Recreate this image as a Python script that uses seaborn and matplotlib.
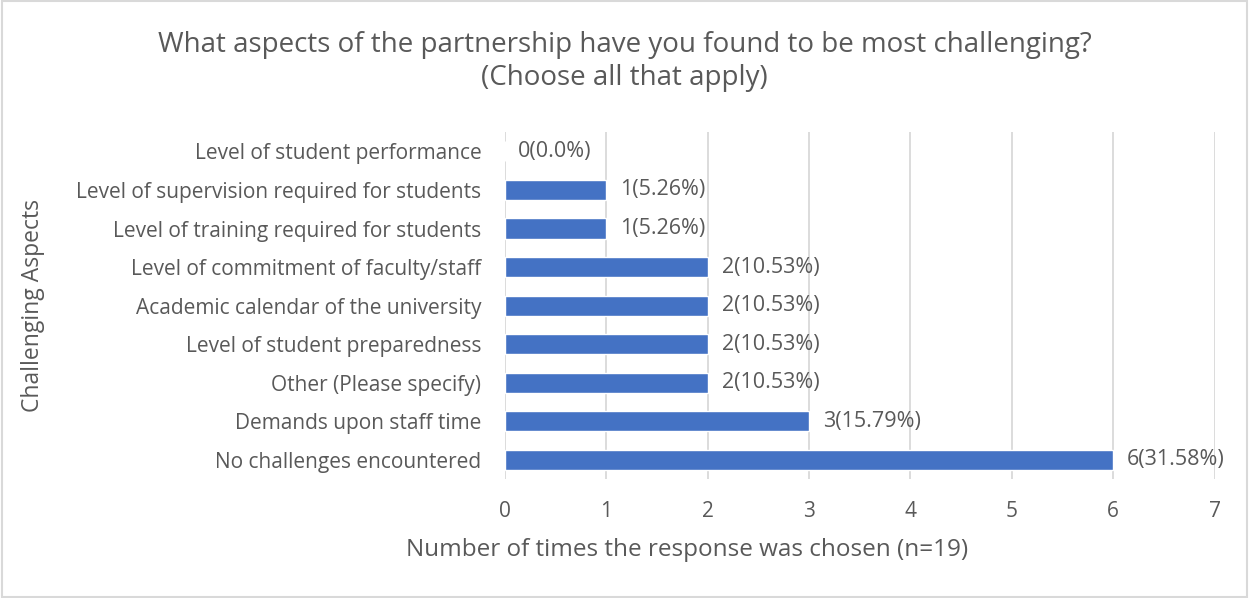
import matplotlib
matplotlib.use("Agg")
import matplotlib.pyplot as plt
import seaborn as sns
import pandas as pd
from matplotlib.patches import Rectangle

categories = [
    "Level of student performance",
    "Level of supervision required for students",
    "Level of training required for students",
    "Level of commitment of faculty/staff",
    "Academic calendar of the university",
    "Level of student preparedness",
    "Other (Please specify)",
    "Demands upon staff time",
    "No challenges encountered",
]
counts = [0, 1, 1, 2, 2, 2, 2, 3, 6]
percents = [0.0, 5.26, 5.26, 10.53, 10.53, 10.53, 10.53, 15.79, 31.58]
x_ticks = [0, 1, 2, 3, 4, 5, 6, 7]

df = pd.DataFrame({"aspect": categories, "count": counts, "pct": percents})

sns.set_theme(style="white")
plt.rcParams["font.family"] = ["Open Sans", "DejaVu Sans"]
text_color = "#595959"

fig = plt.figure(figsize=(12.49, 5.98), dpi=100)
ax = fig.add_axes([0.4043, 0.199, 0.5681, 0.580])

sns.barplot(data=df, x="count", y="aspect", orient="h", color="#4472C4",
            saturation=1, width=0.52, ax=ax)

ax.set_xlim(0, 7)
ax.set_xticks(x_ticks)
ax.set_xticklabels([str(t) for t in x_ticks])
ax.xaxis.grid(True, color="#D9D9D9", linewidth=1.3)
ax.yaxis.grid(False)
ax.set_axisbelow(True)
for s in ax.spines.values():
    s.set_visible(False)
ax.tick_params(axis="both", length=0, colors=text_color, labelsize=15)
ax.tick_params(axis="y", pad=17)
ax.tick_params(axis="x", pad=16)

for i, (c, p) in enumerate(zip(counts, percents)):
    ax.annotate(f"{c}({p:.1f}%)" if p == 0 else f"{c}({p:.2f}%)",
                xy=(c, i), xytext=(9 if c == 0 else 10, 0), textcoords="offset points",
                va="center", ha="left", fontsize=15.5, color=text_color)

# the x-axis title sits centred under the whole plot area, labels included
ax.set_xlabel("Number of times the response was chosen (n=19)", fontsize=17.5,
              color=text_color)
ax.xaxis.set_label_coords(0.257, -0.170)
ax.set_ylabel("Challenging Aspects", fontsize=16.5, color=text_color)
ax.yaxis.set_label_coords(-0.648, 0.5)

fig.text(0.5, 0.897, "What aspects of the partnership have you found to be most challenging?\n(Choose all that apply)",
         ha="center", va="center", fontsize=20, color=text_color, linespacing=1.2)

fig.patches.append(Rectangle((0.0015, 0.0025), 0.997, 0.995, transform=fig.transFigure,
                             fill=False, edgecolor="#D9D9D9", linewidth=1.5))

fig.savefig("out.png", dpi=100, facecolor="white")
